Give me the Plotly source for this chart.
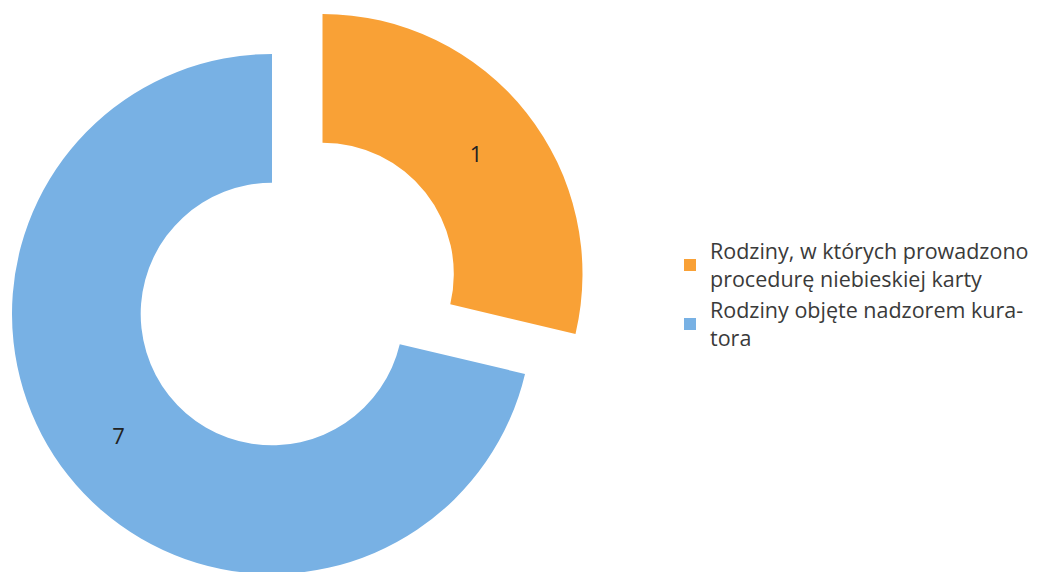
import plotly.graph_objects as go

# ---- data ----
categories = [
    "Rodziny, w których prowadzono<br>procedurę niebieskiej karty",
    "Rodziny objęte nadzorem kura-<br>tora",
]
slice_share = [28.7, 71.3]          # angular share of each slice as drawn (%)
data_labels = ["1", "7"]            # printed data labels
colors = ["#F9A136", "#78B1E4"]
transparent = "rgba(0,0,0,0)"

W, H = 1051, 572

def dom(cx, cy, r):
    """pie domain (paper) for a pie centred at pixel (cx, cy) with radius r"""
    return dict(x=[(cx - r) / W, (cx + r) / W],
                y=[max(0.0, 1 - (cy + r) / H), min(1.0, 1 - (cy - r) / H)])

R = 260
blue_c = (264, 306)
orange_c = (314.5, 266)   # exploded slice

common = dict(labels=categories, values=slice_share, hole=0.505, sort=False,
              direction="clockwise", rotation=0, textinfo="text",
              textposition="inside", insidetextorientation="horizontal",
              textfont=dict(family="Open Sans", size=22, color="#222222"),
              hoverinfo="skip")

fig = go.Figure()
# legend-only trace (tiny, hidden under the ring)
fig.add_trace(go.Pie(labels=categories, values=slice_share, sort=False,
                     marker=dict(colors=colors), textinfo="none",
                     domain=dict(x=[0.09, 0.092], y=[0.56, 0.5635]),
                     hoverinfo="skip", showlegend=True))
# blue part
fig.add_trace(go.Pie(**common, text=["", data_labels[1]],
                     marker=dict(colors=[transparent, colors[1]], line=dict(width=0)),
                     domain=dom(*blue_c, R), showlegend=False))
# orange exploded slice
fig.add_trace(go.Pie(**common, text=[data_labels[0], ""],
                     marker=dict(colors=[colors[0], transparent], line=dict(width=0)),
                     domain=dom(*orange_c, R), showlegend=False))

fig.update_layout(
    width=W, height=H,
    margin=dict(l=0, r=0, t=0, b=0),
    paper_bgcolor="white", plot_bgcolor="white",
    legend=dict(x=662 / W, xanchor="left", y=0.499, yanchor="middle",
                font=dict(family="Open Sans", size=21.5, color="#3a3a3a"),
                bgcolor="rgba(0,0,0,0)", tracegroupgap=0),
)

fig.write_html("out.html")
